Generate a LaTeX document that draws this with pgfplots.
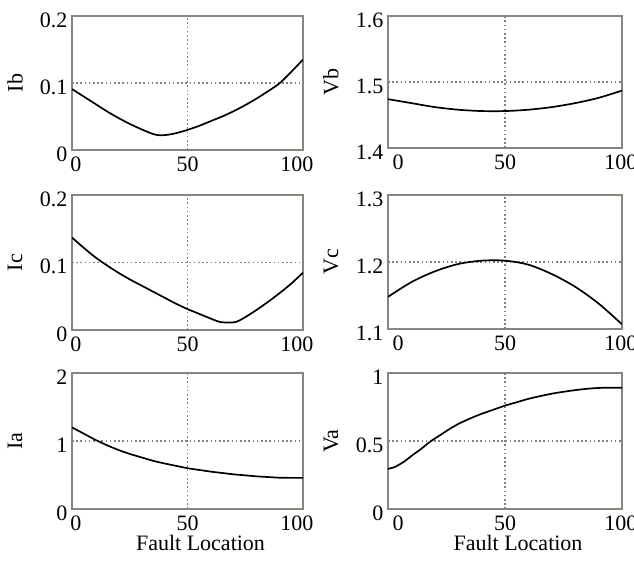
\documentclass[border=0pt]{standalone}
\usepackage{fontspec}
\setmainfont{Liberation Serif}
\usepackage{pgfplots}
\pgfplotsset{compat=1.18}
\definecolor{frame}{HTML}{86867E}
\definecolor{gridc}{HTML}{808080}

\pgfplotsset{
  panel/.style={
    scale only axis, width=231pt, height=134pt, anchor=north west,
    xmin=0, xmax=100, xtick={1.7,97.4}, xticklabels={0,100},
    extra x ticks={50},
    extra x tick style={grid=major},
    extra y tick style={grid=major},
    major grid style={gridc, line width=1.3pt, dash pattern=on 1.6pt off 2.6pt},
    major tick length=0pt,
    axis line style={frame, line width=1.5pt},
    /pgf/number format/assume math mode=true,
    tick label style={font=\fontsize{22}{24}\selectfont},
    yticklabel style={yshift=-4pt, xshift=-1pt},
    xticklabel style={yshift=-3pt},
    label style={font=\fontsize{22}{24}\selectfont},
    ylabel style={at={([xshift=-57pt]axis description cs:0,0.5)}, anchor=center},
    xlabel style={xshift=13pt, yshift=2pt},
  },
  right/.style={width=234pt, xtick={4.3,99.5}},
  curve/.style={black, line width=1.7pt, smooth, no marks},
}

\begin{document}
\begin{tikzpicture}
\useasboundingbox (0pt,0pt) rectangle (634pt,-565pt);

% Ib
\begin{axis}[panel, at={(72pt,-16pt)}, ymin=0, ymax=0.2, ytick={0,0.2}, extra y ticks={0.1}, ylabel={Ib}]
\addplot[curve] coordinates {(0,0.091) (5,0.080) (10,0.069) (15,0.058) (20,0.048) (25,0.039) (30,0.031) (35,0.024) (38,0.022) (42,0.023) (46,0.026) (50,0.030) (55,0.036) (60,0.043) (65,0.050) (70,0.058) (75,0.067) (80,0.077) (85,0.088) (90,0.100) (95,0.117) (100,0.135)};
\end{axis}

% Vb
\begin{axis}[panel, right, at={(388pt,-16pt)}, height=132pt, ymin=1.4, ymax=1.6, ytick={1.4,1.6}, extra y ticks={1.5}, ylabel={Vb}]
\addplot[curve] coordinates {(0,1.474) (10,1.468) (20,1.462) (30,1.458) (40,1.456) (50,1.456) (60,1.458) (70,1.462) (80,1.468) (90,1.476) (100,1.487)};
\end{axis}

% Ic
\begin{axis}[panel, at={(72pt,-195pt)}, height=135pt, ymin=0, ymax=0.2, ytick={0,0.2}, extra y ticks={0.1}, ylabel={Ic}]
\addplot[curve] coordinates {(0,0.137) (5,0.122) (10,0.108) (15,0.096) (20,0.085) (25,0.075) (30,0.066) (35,0.057) (40,0.048) (45,0.039) (50,0.031) (55,0.024) (60,0.017) (64,0.012) (68,0.011) (71,0.012) (75,0.019) (80,0.030) (85,0.042) (90,0.055) (95,0.069) (100,0.085)};
\end{axis}

% Vc
\begin{axis}[panel, right, at={(388pt,-195pt)}, ymin=1.1, ymax=1.3, ytick={1.1,1.3}, extra y ticks={1.2}, ylabel={Vc}]
\addplot[curve] coordinates {(0,1.148) (10,1.170) (20,1.186) (30,1.197) (40,1.202) (50,1.202) (60,1.196) (70,1.182) (80,1.163) (90,1.138) (100,1.107)};
\end{axis}

% Ia
\begin{axis}[panel, at={(72pt,-373pt)}, height=136pt, ymin=0, ymax=2, ytick={0,2}, extra y ticks={1}, ylabel={Ia}, xlabel={Fault Location}]
\addplot[curve] coordinates {(0,1.20) (5,1.11) (10,1.02) (15,0.94) (20,0.87) (25,0.81) (30,0.76) (35,0.71) (40,0.67) (45,0.635) (50,0.60) (55,0.575) (60,0.55) (65,0.53) (70,0.51) (75,0.495) (80,0.48) (85,0.47) (90,0.46) (95,0.458) (100,0.458)};
\end{axis}

% Va
\begin{axis}[panel, right, at={(388pt,-373pt)}, height=136pt, ymin=0, ymax=1, ytick={0,1}, extra y ticks={0.5}, ylabel={Va}, xlabel={Fault Location}]
\addplot[curve] coordinates {(0,0.295) (3,0.31) (7,0.35) (10,0.39) (14,0.44) (18,0.495) (22,0.54) (26,0.585) (30,0.625) (35,0.665) (40,0.70) (45,0.73) (50,0.76) (55,0.785) (60,0.81) (65,0.83) (70,0.848) (75,0.862) (80,0.874) (85,0.884) (90,0.89) (95,0.892) (100,0.892)};
\end{axis}
\end{tikzpicture}
\end{document}
